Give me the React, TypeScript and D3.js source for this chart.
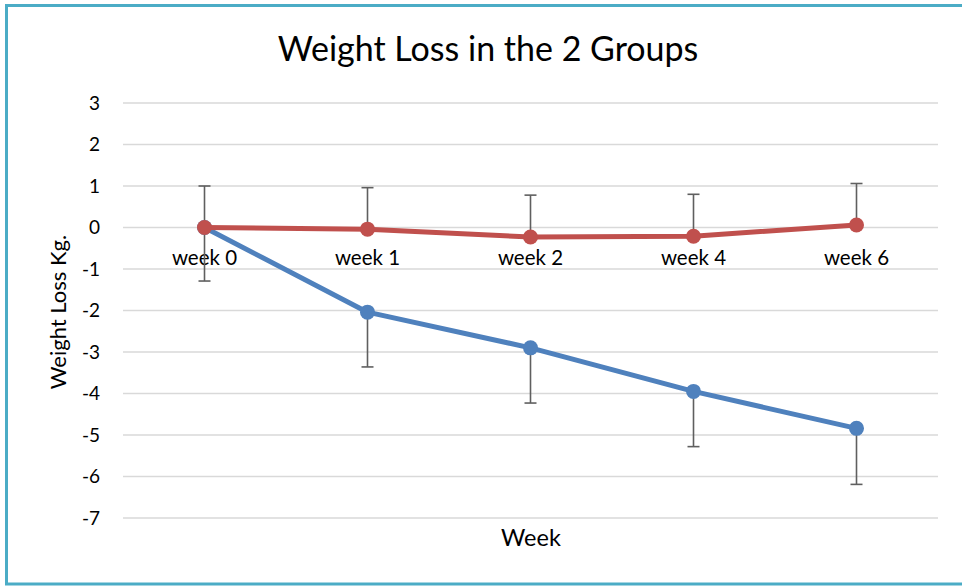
import React from "react";
import * as d3 from "d3";

const weeks = ["week 0", "week 1", "week 2", "week 4", "week 6"];
const blueValues = [0, -2.04, -2.9, -3.95, -4.84];
const blueErrors = [1.29, 1.32, 1.33, 1.33, 1.35];
const redValues = [0, -0.04, -0.23, -0.21, 0.06];
const redErrors = [1.0, 1.0, 1.01, 1.01, 1.0];
const yTicks = [3, 2, 1, 0, -1, -2, -3, -4, -5, -6, -7];

const W = 962;
const H = 587;
const FONT = "Lato, 'Open Sans', sans-serif";

export default function App() {
  const x = d3.scaleBand<string>().domain(weeks).range([123, 938]);
  const y = d3.scaleLinear().domain([-7, 3]).range([518, 103]);
  const cx = (w: string) => (x(w) as number) + x.bandwidth() / 2;
  const line = d3
    .line<number>()
    .x((_, i) => cx(weeks[i]))
    .y((d) => y(d));

  const errColor = "#5f5f5f";
  const capW = 6;

  return (
    <div>
      <style>{`body{margin:0}`}</style>
      <svg width={W} height={H} style={{ display: "block", background: "#fff" }}>
        <rect x={6.5} y={5.5} width={1000} height={578.5} fill="#fff" stroke="#4BACC6" strokeWidth={3} />
        <text x={488} y={61} textAnchor="middle" fontFamily={FONT} fontSize={34} fill="#000">
          Weight Loss in the 2 Groups
        </text>
        {yTicks.map((t) => (
          <g key={t}>
            <line x1={123} x2={938} y1={y(t)} y2={y(t)} stroke="#d9d9d9" strokeWidth={1.5} />
            <text x={100} y={y(t) + 6.5} textAnchor="end" fontFamily={FONT} fontSize={19} fill="#000">
              {t}
            </text>
          </g>
        ))}
        <text
          transform={`translate(66,312) rotate(-90)`}
          textAnchor="middle"
          fontFamily={FONT}
          fontSize={22}
          fill="#000"
        >
          Weight Loss Kg.
        </text>
        <text x={531} y={546} textAnchor="middle" fontFamily={FONT} fontSize={23.5} fill="#000">
          Week
        </text>
        {weeks.map((w) => (
          <text key={w} x={cx(w)} y={265} textAnchor="middle" fontFamily={FONT} fontSize={20.5} fill="#000">
            {w}
          </text>
        ))}
        {weeks.map((w, i) => {
          const xx = cx(w);
          const yb0 = y(blueValues[i]);
          const yb1 = y(blueValues[i] - blueErrors[i]);
          const yr0 = y(redValues[i]);
          const yr1 = y(redValues[i] + redErrors[i]);
          return (
            <g key={"e" + w} stroke={errColor} strokeWidth={1.6}>
              <line x1={xx} x2={xx} y1={yb0} y2={yb1} />
              <line x1={xx - capW} x2={xx + capW} y1={yb1} y2={yb1} />
              <line x1={xx} x2={xx} y1={yr0} y2={yr1} />
              <line x1={xx - capW} x2={xx + capW} y1={yr1} y2={yr1} />
            </g>
          );
        })}
        <path d={line(blueValues) as string} fill="none" stroke="#4F81BD" strokeWidth={5} strokeLinejoin="round" />
        {blueValues.map((v, i) => (
          <circle key={"b" + i} cx={cx(weeks[i])} cy={y(v)} r={7.5} fill="#4F81BD" />
        ))}
        <path d={line(redValues) as string} fill="none" stroke="#C0504D" strokeWidth={5} strokeLinejoin="round" />
        {redValues.map((v, i) => (
          <circle key={"r" + i} cx={cx(weeks[i])} cy={y(v)} r={7.5} fill="#C0504D" />
        ))}
      </svg>
    </div>
  );
}
